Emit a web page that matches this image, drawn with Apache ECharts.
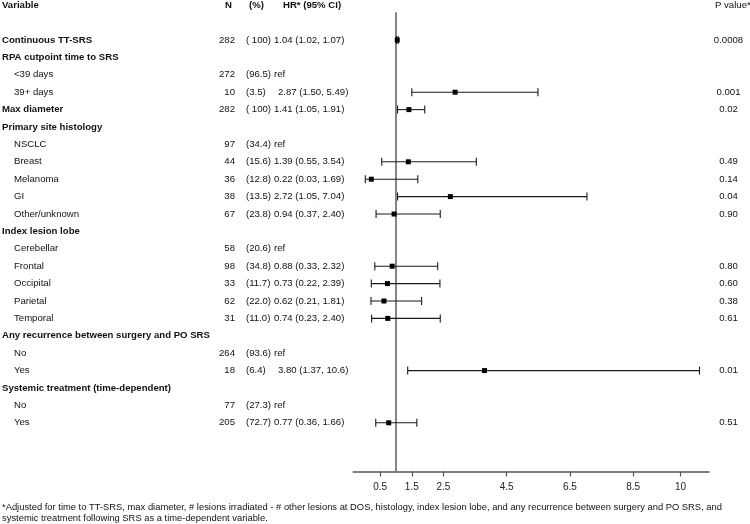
<!DOCTYPE html>
<html>
<head>
<meta charset="utf-8">
<script src="https://cdn.jsdelivr.net/npm/echarts@6/dist/echarts.min.js"></script>
<style>
html,body{margin:0;padding:0;background:#fff;}
#chart{width:750px;height:524px;}
</style>
</head>
<body>
<div id="chart"></div>
<script>
// ---------- data ----------
const headers = ['Variable', 'N', '(%)', 'HR* (95% CI)', 'P value*'];
const variables = ['Continuous TT-SRS','RPA cutpoint time to SRS','<39 days','39+ days','Max diameter',
  'Primary site histology','NSCLC','Breast','Melanoma','GI','Other/unknown',
  'Index lesion lobe','Cerebellar','Frontal','Occipital','Parietal','Temporal',
  'Any recurrence between surgery and PO SRS','No','Yes',
  'Systemic treatment (time-dependent)','No','Yes'];
const isBold = [1,1,0,0,1,1,0,0,0,0,0,1,0,0,0,0,0,1,0,0,1,0,0];
const nValues = ['282','','272','10','282','','97','44','36','38','67','','58','98','33','62','31','','264','18','','77','205'];
const pctValues = ['( 100)','','(96.5)','(3.5)','( 100)','','(34.4)','(15.6)','(12.8)','(13.5)','(23.8)','',
  '(20.6)','(34.8)','(11.7)','(22.0)','(11.0)','','(93.6)','(6.4)','','(27.3)','(72.7)'];
const hrLabels = ['1.04 (1.02, 1.07)','','ref','2.87 (1.50, 5.49)','1.41 (1.05, 1.91)','','ref',
  '1.39 (0.55, 3.54)','0.22 (0.03, 1.69)','2.72 (1.05, 7.04)','0.94 (0.37, 2.40)','','ref',
  '0.88 (0.33, 2.32)','0.73 (0.22, 2.39)','0.62 (0.21, 1.81)','0.74 (0.23, 2.40)','','ref',
  '3.80 (1.37, 10.6)','','ref','0.77 (0.36, 1.66)'];
const hr     = [1.04,null,null,2.87,1.41,null,null,1.39,0.22,2.72,0.94,null,null,0.88,0.73,0.62,0.74,null,null,3.80,null,null,0.77];
const ciLow  = [1.02,null,null,1.50,1.05,null,null,0.55,0.03,1.05,0.37,null,null,0.33,0.22,0.21,0.23,null,null,1.37,null,null,0.36];
const ciHigh = [1.07,null,null,5.49,1.91,null,null,3.54,1.69,7.04,2.40,null,null,2.32,2.39,1.81,2.40,null,null,10.6,null,null,1.66];
const pValues = ['0.0008','','','0.001','0.02','','','0.49','0.14','0.04','0.90','','','0.80','0.60','0.38','0.61','','','0.01','','','0.51'];
const tickValues = [0.5, 1.5, 2.5, 4.5, 6.5, 8.5, 10];
const refValue = 1;
const footnote = ['*Adjusted for time to TT-SRS, max diameter, # lesions irradiated - # other lesions at DOS, histology, index lesion lobe, and any recurrence between surgery and PO SRS, and',
  'systemic treatment following SRS as a time-dependent variable.'];

// ---------- layout ----------
const FONT = '"Liberation Sans", Arial, Helvetica, sans-serif';
const FS = 9.6;
const ROW0 = 2; // first data row index (row 0 = header, row 1 blank)
const colX = {varBold: 2, varIndent: 14, n: 235, pct: 246, hr: 274, hrShort: 278, p: 728.5};

const chart = echarts.init(document.getElementById('chart'), null, {renderer: 'canvas'});

const textData = variables.map((v, i) => [1, i + ROW0, i]);
const barData = [];
hr.forEach((h, i) => { if (h !== null) barData.push([ciLow[i], ciHigh[i], h, i + ROW0]); });

function txt(x, y, text, bold, align) {
  return {
    type: 'text', x: x, y: y,
    style: {
      text: text, fill: '#111',
      font: (bold ? 'bold ' : '') + FS + 'px ' + FONT,
      align: align || 'left', verticalAlign: 'middle',
      textAlign: align || 'left', textVerticalAlign: 'middle'
    }
  };
}

const option = {
  animation: false,
  backgroundColor: '#fff',
  grid: {left: 353.3, width: 355.7, top: 0, height: 471.5, containLabel: false},
  xAxis: {
    type: 'value', min: -0.35, max: 10.9, position: 'bottom',
    splitLine: {show: false},
    axisLine: {show: true, onZero: false, lineStyle: {color: '#555', width: 1.6}},
    axisTick: {show: true, length: 5, customValues: tickValues, lineStyle: {color: '#555', width: 1.2}},
    axisLabel: {show: true, customValues: tickValues, margin: 11, fontSize: 10, color: '#222', fontFamily: FONT,
      formatter: v => String(v)}
  },
  yAxis: {
    type: 'value', min: -0.3, max: 26.8, inverse: true, show: false
  },
  series: [
    {
      type: 'line', data: [[refValue, 0.4], [refValue, 26.8]], symbol: 'none',
      lineStyle: {color: '#666', width: 1.6}, silent: true, z: 1
    },
    {
      type: 'custom', clip: false, z: 3,
      data: barData,
      encode: {x: [0, 1, 2], y: 3},
      renderItem: function (params, api) {
        const row = api.value(3);
        const pL = api.coord([api.value(0), row]);
        const pH = api.coord([api.value(1), row]);
        const pM = api.coord([api.value(2), row]);
        const cap = 4;
        const ls = {stroke: '#1a1a1a', lineWidth: 1.1};
        return {
          type: 'group',
          children: [
            {type: 'line', shape: {x1: pL[0], y1: pL[1], x2: pH[0], y2: pH[1]}, style: ls},
            {type: 'line', shape: {x1: pL[0], y1: pL[1] - cap, x2: pL[0], y2: pL[1] + cap}, style: ls},
            {type: 'line', shape: {x1: pH[0], y1: pH[1] - cap, x2: pH[0], y2: pH[1] + cap}, style: ls},
            {type: 'rect', shape: {x: pM[0] - 2.5, y: pM[1] - 2.5, width: 5, height: 5}, style: {fill: '#000'}}
          ]
        };
      }
    },
    {
      type: 'custom', clip: false, z: 2, silent: true,
      data: textData,
      encode: {x: 0, y: 1},
      renderItem: function (params, api) {
        const i = api.value(2);
        const y = api.coord([1, api.value(1)])[1];
        const ch = [];
        ch.push(txt(isBold[i] ? colX.varBold : colX.varIndent, y, variables[i], !!isBold[i]));
        if (nValues[i]) ch.push(txt(colX.n, y, nValues[i], false, 'right'));
        if (pctValues[i]) ch.push(txt(colX.pct, y, pctValues[i], false));
        if (hrLabels[i]) ch.push(txt(pctValues[i].length < 6 ? colX.hrShort : colX.hr, y, hrLabels[i], false));
        if (pValues[i]) ch.push(txt(colX.p, y, pValues[i], false, 'center'));
        return {type: 'group', children: ch};
      }
    },
    {
      type: 'custom', clip: false, z: 2, silent: true,
      data: [[1, 0]],
      encode: {x: 0, y: 1},
      renderItem: function (params, api) {
        const y = api.coord([1, api.value(1)])[1];
        return {type: 'group', children: [
          txt(2, y, headers[0], true),
          txt(225, y, headers[1], true),
          txt(249, y, headers[2], true),
          txt(283, y, headers[3], true),
          txt(715, y, headers[4], false)
        ]};
      }
    }
  ],
  graphic: [
    {type: 'text', left: 2, top: 503, style: {text: footnote[0], font: '9.4px ' + FONT, fill: '#111'}},
    {type: 'text', left: 2, top: 514, style: {text: footnote[1], font: '9.4px ' + FONT, fill: '#111'}}
  ]
};
chart.setOption(option);
</script>
</body>
</html>
